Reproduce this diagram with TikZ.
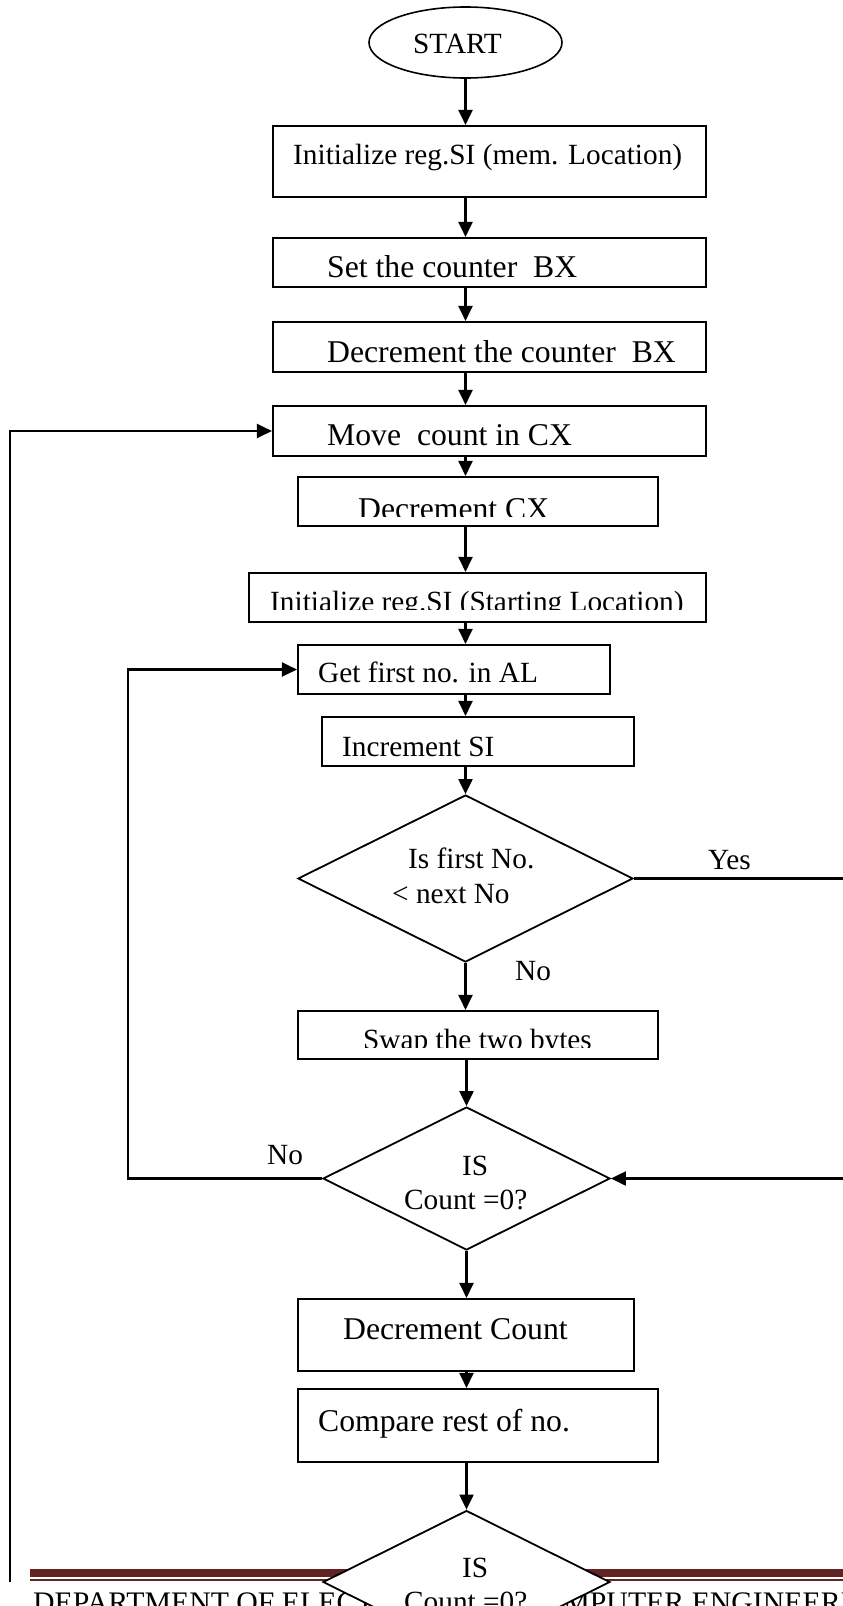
\documentclass[tikz,border=0pt]{standalone}
\usepackage{fontspec}
\setmainfont{Liberation Serif}
\usetikzlibrary{shapes.geometric,arrows.meta}
\definecolor{footred}{HTML}{622423}
\begin{document}
\begin{tikzpicture}[x=1pt,y=-1pt,
  box/.style={draw,line width=2.1pt,rectangle,inner sep=0pt},
  dia/.style={draw,line width=1.8pt,diamond,inner sep=0pt,fill=white},
  txt/.style={anchor=base west,inner sep=0pt,font=\fontsize{29.3}{35}\selectfont},
  txtb/.style={anchor=base west,inner sep=0pt,font=\fontsize{31.7}{38}\selectfont},
  arr/.style={line width=2.1pt,-{Triangle[length=15pt,width=14pt]}},
  ln/.style={line width=2.1pt}]
\useasboundingbox (0,0) rectangle (843,1606);
\fill[white] (0,0) rectangle (843,1606);
\clip (0,0) rectangle (843,1606);

% start
\node[draw,ellipse,line width=1.6pt,minimum width=193pt,minimum height=71pt,inner sep=0pt] (start) at (465.5,42.5) {};
\node[txt] (tstart) at (413,53) {START};

% boxes
\node[box,minimum width=433pt,minimum height=71pt] (b1) at (489.5,161.5) {};
\node[txt] (t1) at (293,164) {Initialize reg.SI (mem. Location)};
\node[box,minimum width=433pt,minimum height=49pt] (b2) at (489.5,262.5) {};
\node[txtb] (t2) at (327,277) {Set the counter\ \ BX};
\node[box,minimum width=433pt,minimum height=50pt] (b3) at (489.5,347) {};
\node[txtb] (t3) at (327,362) {Decrement the counter\ \ BX};
\node[box,minimum width=433pt,minimum height=50pt] (b4) at (489.5,431) {};
\node[txtb] (t4) at (327,445) {Move\ \ count in CX};
\node[box,minimum width=360pt,minimum height=49pt] (b5) at (478,501.5) {};
\begin{scope}
\clip (280,470) rectangle (670,516);
\node[txtb] (t5) at (358,519) {Decrement CX};
\end{scope}
\node[box,minimum width=457pt,minimum height=49pt] (b6) at (477.5,597.5) {};
\begin{scope}
\clip (240,565) rectangle (700,609);
\node[txt] (t6) at (270,611) {Initialize reg.SI (Starting Location)};
\end{scope}
\node[box,minimum width=312pt,minimum height=49pt] (b7) at (454,669.5) {};
\node[txt] (t7) at (318,682) {Get first no. in AL};
\node[box,minimum width=312pt,minimum height=49pt] (b8) at (478,741.5) {};
\node[txt] (t8) at (342,756) {Increment SI};

% decision 1
\node[dia,minimum width=335pt,minimum height=167pt] (d1) at (465.5,878.5) {};
\node[txt] (td1a) at (408,868) {Is first No.};
\node[txt] (td1b) at (392,903) {< next No};
\node[txt] (lyes) at (708,869) {Yes};
\node[txt] (lno1) at (515,980) {No};

\node[box,minimum width=360pt,minimum height=48pt] (sw) at (478,1035) {};
\begin{scope}
\clip (290,1005) rectangle (670,1047);
\node[txt] (tsw) at (363,1049.5) {Swap the two bytes};
\end{scope}

% decision 2
\node[dia,minimum width=287pt,minimum height=143pt] (d2) at (466.5,1178.5) {};
\node[txt] (td2a) at (462,1175) {IS};
\node[txt] (td2b) at (404,1209) {Count =0?};
\node[txt] (lno2) at (267,1164) {No};

\node[box,minimum width=336pt,minimum height=72pt] (dc) at (466,1335) {};
\node[txtb] (tdc) at (343,1339) {Decrement Count};
\node[box,minimum width=360pt,minimum height=73pt] (cr) at (478,1425.5) {};
\node[txtb] (tcr) at (318,1431) {Compare rest of no.};

% footer
\fill[footred] (30,1569) rectangle (843,1577);
\fill[footred] (30,1579) rectangle (843,1581);
\node[anchor=base west,inner sep=0pt,font=\fontsize{29.8}{36}\selectfont] (foot) at (33,1612) {DEPARTMENT OF ELECTRONICS \& COMPUTER ENGINEERING};

% decision 3
\node[dia,minimum width=287pt,minimum height=143pt] (d3) at (466.5,1582) {};
\node[txt] (td3a) at (462,1577) {IS};
\node[txt] (td3b) at (404,1611) {Count =0?};

% main flow arrows
\draw[arr] (start.south) -- (b1.north -| start.south);
\draw[arr] (b1.south -| start.south) -- (b2.north -| start.south);
\draw[arr] (b2.south -| start.south) -- (b3.north -| start.south);
\draw[arr] (b3.south -| start.south) -- (b4.north -| start.south);
\draw[arr] (b4.south -| start.south) -- (b5.north -| start.south);
\draw[arr] (b5.south -| start.south) -- (b6.north -| start.south);
\draw[arr] (b6.south -| start.south) -- (b7.north -| start.south);
\draw[arr] (b7.south -| start.south) -- (b8.north -| start.south);
\draw[arr] (b8.south -| start.south) -- (d1.north);
\draw[arr] (d1.south) -- (sw.north -| d1.south);
\draw[arr] (sw.south -| d2.north) -- (d2.north);
\draw[arr] (d2.south) -- (dc.north -| d2.south);
\draw[arr] (dc.south -| d2.south) -- (cr.north -| d2.south);
\draw[arr] (cr.south -| d3.north) -- (d3.north);

% side connectors
\coordinate (yesend) at (843,878.5);
\draw[ln] (d1.east) -- (yesend);
\coordinate (retstart) at (843,1178.5);
\draw[arr] (retstart) -- (d2.east);
\draw[arr] (d2.west) -- ++(-194,0) |- (b7.west);
\coordinate (oloop) at (10,1582);
\draw[arr] (oloop) |- (b4.west);
\end{tikzpicture}
\end{document}
